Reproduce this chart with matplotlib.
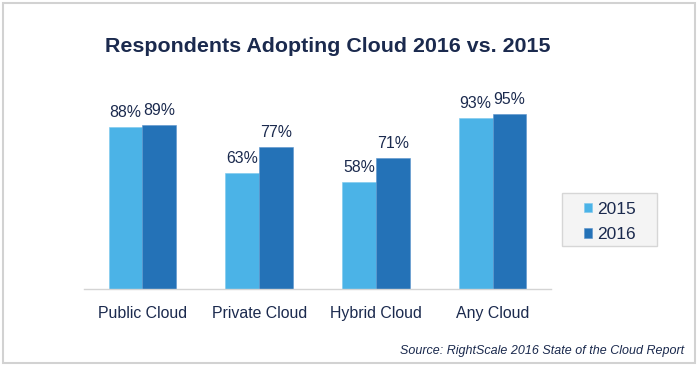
import numpy as np
import matplotlib.pyplot as plt
from matplotlib.patches import Rectangle

plt.rcdefaults()

FIGSIZE = (7.0, 3.67)
DPI = 100

categories = ["Public Cloud", "Private Cloud", "Hybrid Cloud", "Any Cloud"]
series_names = ["2015", "2016"]
values_2015 = [88, 63, 58, 93]
values_2016 = [89, 77, 71, 95]

COLORS = {
    "2015": "#4BB3E7",
    "2016": "#2472B7",
}
NAVY = "#1B2A4E"

plt.rcParams.update({
    "font.family": ["Liberation Sans", "DejaVu Sans"],
    "font.size": 11,
})

fig = plt.figure(figsize=FIGSIZE, dpi=DPI)
fig.patch.set_facecolor("white")

# outer frame
fig.patches.append(Rectangle((3 / 700, 1 - 363 / 367), 692 / 700, 360 / 367,
                             transform=fig.transFigure, fill=False,
                             edgecolor="#d2d2d2", linewidth=1.5))

# legend box, drawn under the axes so the legend entries stay visible
fig.patches.append(Rectangle((562 / 700, 1 - 246 / 367), 95 / 700, 53 / 367,
                             transform=fig.transFigure, facecolor="#f4f4f4",
                             edgecolor="#d6d6d6", linewidth=1, zorder=-1))

ax = fig.add_axes([84 / 700, 1 - 289 / 367, 467 / 700, 184 / 367])
ax.patch.set_alpha(0)

x = np.arange(len(categories))
width = 0.29

b1 = ax.bar(x - width / 2, values_2015, width, color=COLORS["2015"],
            label=series_names[0], edgecolor="#7cc8ee", linewidth=0.4)
b2 = ax.bar(x + width / 2, values_2016, width, color=COLORS["2016"],
            label=series_names[1], edgecolor="#5a93cc", linewidth=0.4)

for bars, vals in [(b1, values_2015), (b2, values_2016)]:
    for rect, v in zip(bars, vals):
        ax.annotate(f"{v}%", (rect.get_x() + rect.get_width() / 2, rect.get_height()),
                    xytext=(0, 5), textcoords="offset points",
                    ha="center", va="bottom", fontsize=11.4, color=NAVY)

ax.set_xlim(-0.5, 3.5)
ax.set_ylim(0, 100)
ax.set_xticks(x)
ax.set_xticklabels(categories, fontsize=11.4, color=NAVY)
ax.tick_params(axis="x", length=0, pad=12)
ax.set_yticks([])

for side in ["top", "right", "left"]:
    ax.spines[side].set_visible(False)
ax.spines["bottom"].set_color("#d4d4d4")
ax.spines["bottom"].set_linewidth(1)

fig.text(328 / 700, 1 - 46 / 367, "Respondents Adopting Cloud 2016 vs. 2015",
         ha="center", va="center", fontsize=15.4, fontweight="bold", color=NAVY)

leg = ax.legend(loc="center", bbox_to_anchor=(610 / 700, 1 - 222 / 367),
                bbox_transform=fig.transFigure,
                fontsize=12.5, frameon=False,
                handlelength=0.46, handleheight=0.46, handletextpad=0.25,
                labelspacing=0.62, borderpad=0, borderaxespad=0)
for t in leg.get_texts():
    t.set_color(NAVY)

fig.text(684 / 700, 1 - 351 / 367, "Source: RightScale 2016 State of the Cloud Report",
         ha="right", va="center", fontsize=9, style="italic", color=NAVY)

plt.savefig("out.png", dpi=DPI)
plt.close()
